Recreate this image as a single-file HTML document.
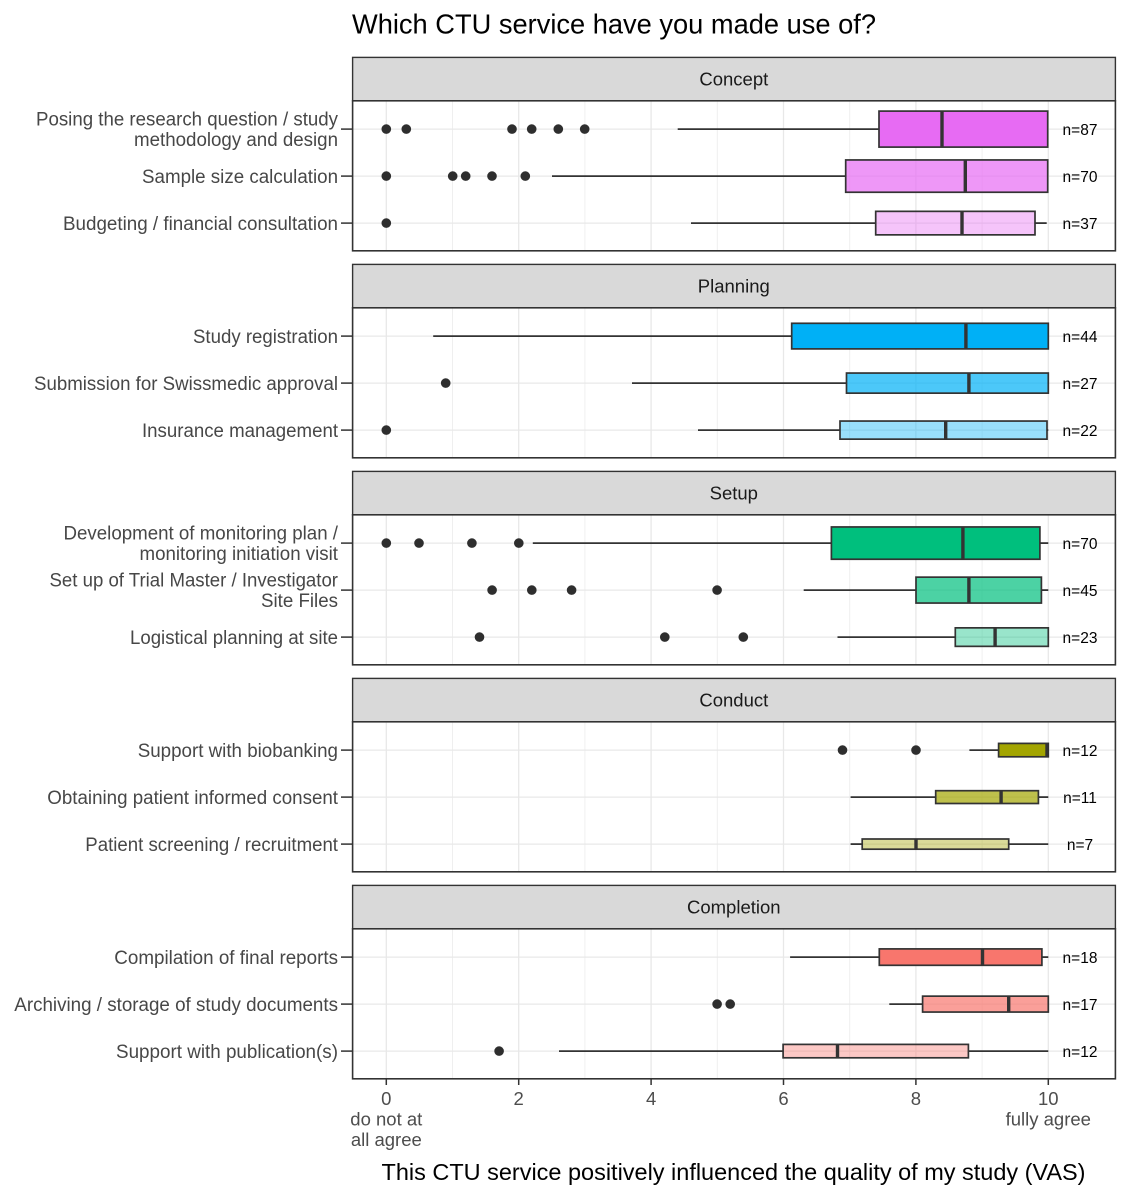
<!DOCTYPE html>
<html><head><meta charset="utf-8"><style>
html,body{margin:0;padding:0;background:#fff;}
svg{display:block;}
text{font-family:"Liberation Sans",Arial,sans-serif;}
.yl{font-size:19px;fill:#474747;text-anchor:end;}
.nl{font-size:15.5px;fill:#000;text-anchor:middle;}
.st{font-size:18.5px;fill:#1A1A1A;text-anchor:middle;}
.xl{font-size:18.5px;fill:#4D4D4D;text-anchor:middle;}
.w{stroke:#333;stroke-width:1.8;fill:none;}
.b{stroke:#333;stroke-width:1.7;}
.m{stroke:#333;stroke-width:3.4;}
.o{fill:#2e2e2e;}
.gM{stroke:#E8E8E8;stroke-width:1.3;}
.gm{stroke:#EEEEEE;stroke-width:0.9;}
.tk{stroke:#333;stroke-width:1.5;}
</style></head><body>
<svg width="1129" height="1200" viewBox="0 0 1129 1200" xmlns="http://www.w3.org/2000/svg">
<defs>
<g id="grid">
<line class="gm" x1="452.5" y1="0" x2="452.5" y2="150"/>
<line class="gm" x1="584.9" y1="0" x2="584.9" y2="150"/>
<line class="gm" x1="717.3" y1="0" x2="717.3" y2="150"/>
<line class="gm" x1="849.7" y1="0" x2="849.7" y2="150"/>
<line class="gm" x1="982.1" y1="0" x2="982.1" y2="150"/>
<line class="gM" x1="386.3" y1="0" x2="386.3" y2="150"/>
<line class="gM" x1="518.7" y1="0" x2="518.7" y2="150"/>
<line class="gM" x1="651.1" y1="0" x2="651.1" y2="150"/>
<line class="gM" x1="783.5" y1="0" x2="783.5" y2="150"/>
<line class="gM" x1="915.9" y1="0" x2="915.9" y2="150"/>
<line class="gM" x1="1048.3" y1="0" x2="1048.3" y2="150"/>
<line class="gM" x1="352.6" y1="28.3" x2="1115.4" y2="28.3"/>
<line class="gM" x1="352.6" y1="75.3" x2="1115.4" y2="75.3"/>
<line class="gM" x1="352.6" y1="122.3" x2="1115.4" y2="122.3"/>
<line class="tk" x1="341" y1="28.3" x2="352.6" y2="28.3"/>
<line class="tk" x1="341" y1="75.3" x2="352.6" y2="75.3"/>
<line class="tk" x1="341" y1="122.3" x2="352.6" y2="122.3"/>
</g>
</defs>

<text x="352" y="33.3" font-size="27.5" fill="#000" textLength="524" lengthAdjust="spacingAndGlyphs">Which CTU service have you made use of?</text>

<!-- strips -->
<rect x="352.6" y="57.4" width="762.8" height="43.4" fill="#D9D9D9" stroke="#333" stroke-width="1.4"/>
<text class="st" x="733.8" y="85.7">Concept</text>
<rect x="352.6" y="264.4" width="762.8" height="43.4" fill="#D9D9D9" stroke="#333" stroke-width="1.4"/>
<text class="st" x="733.8" y="292.7">Planning</text>
<rect x="352.6" y="471.4" width="762.8" height="43.4" fill="#D9D9D9" stroke="#333" stroke-width="1.4"/>
<text class="st" x="733.8" y="499.7">Setup</text>
<rect x="352.6" y="678.4" width="762.8" height="43.4" fill="#D9D9D9" stroke="#333" stroke-width="1.4"/>
<text class="st" x="733.8" y="706.7">Conduct</text>
<rect x="352.6" y="885.4" width="762.8" height="43.4" fill="#D9D9D9" stroke="#333" stroke-width="1.4"/>
<text class="st" x="733.8" y="913.7">Completion</text>

<!-- grids -->
<use href="#grid" transform="translate(0,100.8)"/>
<use href="#grid" transform="translate(0,307.8)"/>
<use href="#grid" transform="translate(0,514.8)"/>
<use href="#grid" transform="translate(0,721.8)"/>
<use href="#grid" transform="translate(0,928.8)"/>

<!-- ===== Concept ===== -->
<g fill="#E76BF3">
<line class="w" x1="677.7" y1="129.1" x2="879" y2="129.1"/>
<rect class="b" x="879" y="111.1" width="168.7" height="36"/>
<line class="m" x1="942" y1="111.1" x2="942" y2="147.1"/>
<line class="w" x1="552" y1="176.1" x2="845.7" y2="176.1"/>
<rect class="b" x="845.7" y="159.95" width="202" height="32.3" fill-opacity="0.7"/>
<line class="m" x1="965.3" y1="159.95" x2="965.3" y2="192.25"/>
<line class="w" x1="691" y1="223.1" x2="875.7" y2="223.1"/>
<line class="w" x1="1035" y1="223.1" x2="1046.7" y2="223.1"/>
<rect class="b" x="875.7" y="211.35" width="159.3" height="23.5" fill-opacity="0.4"/>
<line class="m" x1="962" y1="211.35" x2="962" y2="234.85"/>
</g>
<g class="o">
<circle cx="386.3" cy="129.1" r="4.8"/><circle cx="406.3" cy="129.1" r="4.8"/><circle cx="512" cy="129.1" r="4.8"/><circle cx="531.7" cy="129.1" r="4.8"/><circle cx="558.3" cy="129.1" r="4.8"/><circle cx="584.7" cy="129.1" r="4.8"/>
<circle cx="386.3" cy="176.1" r="4.8"/><circle cx="452.7" cy="176.1" r="4.8"/><circle cx="465.7" cy="176.1" r="4.8"/><circle cx="492" cy="176.1" r="4.8"/><circle cx="525.3" cy="176.1" r="4.8"/>
<circle cx="386.3" cy="223.1" r="4.8"/>
</g>

<!-- ===== Planning ===== -->
<g fill="#00B0F6">
<line class="w" x1="433.2" y1="336.1" x2="791.7" y2="336.1"/>
<rect class="b" x="791.7" y="323.3" width="256.6" height="25.6"/>
<line class="m" x1="965.9" y1="323.3" x2="965.9" y2="348.9"/>
<line class="w" x1="632" y1="383.1" x2="846.5" y2="383.1"/>
<rect class="b" x="846.5" y="373.05" width="201.8" height="20.1" fill-opacity="0.7"/>
<line class="m" x1="968.9" y1="373.05" x2="968.9" y2="393.15"/>
<line class="w" x1="698" y1="430.1" x2="840" y2="430.1"/>
<line class="w" x1="1047" y1="430.1" x2="1048.3" y2="430.1"/>
<rect class="b" x="840" y="421.05" width="207" height="18.1" fill-opacity="0.4"/>
<line class="m" x1="945.7" y1="421.05" x2="945.7" y2="439.15"/>
</g>
<g class="o">
<circle cx="445.7" cy="383.1" r="4.8"/>
<circle cx="386.3" cy="430.1" r="4.8"/>
</g>

<!-- ===== Setup ===== -->
<g fill="#00BF7D">
<line class="w" x1="532.8" y1="543.1" x2="831.4" y2="543.1"/>
<line class="w" x1="1039.9" y1="543.1" x2="1048.3" y2="543.1"/>
<rect class="b" x="831.4" y="526.95" width="208.5" height="32.3"/>
<line class="m" x1="962.9" y1="526.95" x2="962.9" y2="559.25"/>
<line class="w" x1="803.7" y1="590.1" x2="916" y2="590.1"/>
<line class="w" x1="1041.4" y1="590.1" x2="1048.3" y2="590.1"/>
<rect class="b" x="916" y="577.15" width="125.4" height="25.9" fill-opacity="0.7"/>
<line class="m" x1="968.9" y1="577.15" x2="968.9" y2="603.05"/>
<line class="w" x1="837.5" y1="637.1" x2="955.3" y2="637.1"/>
<rect class="b" x="955.3" y="627.85" width="93" height="18.5" fill-opacity="0.4"/>
<line class="m" x1="995.1" y1="627.85" x2="995.1" y2="646.35"/>
</g>
<g class="o">
<circle cx="386.3" cy="543.1" r="4.8"/><circle cx="419" cy="543.1" r="4.8"/><circle cx="471.9" cy="543.1" r="4.8"/><circle cx="518.8" cy="543.1" r="4.8"/>
<circle cx="492.1" cy="590.1" r="4.8"/><circle cx="531.8" cy="590.1" r="4.8"/><circle cx="571.6" cy="590.1" r="4.8"/><circle cx="717.1" cy="590.1" r="4.8"/>
<circle cx="479.5" cy="637.1" r="4.8"/><circle cx="664.8" cy="637.1" r="4.8"/><circle cx="743.3" cy="637.1" r="4.8"/>
</g>

<!-- ===== Conduct ===== -->
<g fill="#A3A500">
<line class="w" x1="969.4" y1="750.1" x2="998.6" y2="750.1"/>
<rect class="b" x="998.6" y="743.4" width="49.7" height="13.4"/>
<line class="m" x1="1047" y1="743.4" x2="1047" y2="756.8"/>
<line class="w" x1="850.6" y1="797.1" x2="935.7" y2="797.1"/>
<line class="w" x1="1038.4" y1="797.1" x2="1048.3" y2="797.1"/>
<rect class="b" x="935.7" y="790.7" width="102.7" height="12.8" fill-opacity="0.7"/>
<line class="m" x1="1001.1" y1="790.7" x2="1001.1" y2="803.5"/>
<line class="w" x1="850.6" y1="844.1" x2="862.2" y2="844.1"/>
<line class="w" x1="1008.7" y1="844.1" x2="1048.3" y2="844.1"/>
<rect class="b" x="862.2" y="839" width="146.5" height="10.2" fill-opacity="0.4"/>
<line class="m" x1="916" y1="839" x2="916" y2="849.2"/>
</g>
<g class="o">
<circle cx="842.5" cy="750.1" r="4.8"/><circle cx="916" cy="750.1" r="4.8"/>
</g>

<!-- ===== Completion ===== -->
<g fill="#F8766D">
<line class="w" x1="790.1" y1="957.1" x2="879.3" y2="957.1"/>
<line class="w" x1="1041.9" y1="957.1" x2="1048.3" y2="957.1"/>
<rect class="b" x="879.3" y="948.9" width="162.6" height="16.4"/>
<line class="m" x1="982.5" y1="948.9" x2="982.5" y2="965.3"/>
<line class="w" x1="889.3" y1="1004.1" x2="922.6" y2="1004.1"/>
<rect class="b" x="922.6" y="996.15" width="125.7" height="15.9" fill-opacity="0.7"/>
<line class="m" x1="1008.7" y1="996.15" x2="1008.7" y2="1012.05"/>
<line class="w" x1="559" y1="1051.1" x2="783.1" y2="1051.1"/>
<line class="w" x1="968.4" y1="1051.1" x2="1048.3" y2="1051.1"/>
<rect class="b" x="783.1" y="1044.4" width="185.3" height="13.4" fill-opacity="0.4"/>
<line class="m" x1="837.5" y1="1044.4" x2="837.5" y2="1057.8"/>
</g>
<g class="o">
<circle cx="717.1" cy="1004.1" r="4.8"/><circle cx="730.2" cy="1004.1" r="4.8"/>
<circle cx="499.1" cy="1051.1" r="4.8"/>
</g>

<!-- panel borders -->
<g fill="none" stroke="#333" stroke-width="1.6">
<rect x="352.6" y="100.8" width="762.8" height="150"/>
<rect x="352.6" y="307.8" width="762.8" height="150"/>
<rect x="352.6" y="514.8" width="762.8" height="150"/>
<rect x="352.6" y="721.8" width="762.8" height="150"/>
<rect x="352.6" y="928.8" width="762.8" height="150"/>
</g>

<!-- n labels -->
<text class="nl" x="1080" y="135.1">n=87</text>
<text class="nl" x="1080" y="182.1">n=70</text>
<text class="nl" x="1080" y="229.1">n=37</text>
<text class="nl" x="1080" y="342.1">n=44</text>
<text class="nl" x="1080" y="389.1">n=27</text>
<text class="nl" x="1080" y="436.1">n=22</text>
<text class="nl" x="1080" y="549.1">n=70</text>
<text class="nl" x="1080" y="596.1">n=45</text>
<text class="nl" x="1080" y="643.1">n=23</text>
<text class="nl" x="1080" y="756.1">n=12</text>
<text class="nl" x="1080" y="803.1">n=11</text>
<text class="nl" x="1080" y="850.1">n=7</text>
<text class="nl" x="1080" y="963.1">n=18</text>
<text class="nl" x="1080" y="1010.1">n=17</text>
<text class="nl" x="1080" y="1057.1">n=12</text>

<!-- y labels -->
<text class="yl" x="338" y="125.6" textLength="302" lengthAdjust="spacingAndGlyphs">Posing the research question / study</text>
<text class="yl" x="338" y="145.8" textLength="204" lengthAdjust="spacingAndGlyphs">methodology and design</text>
<text class="yl" x="338" y="182.8" textLength="196" lengthAdjust="spacingAndGlyphs">Sample size calculation</text>
<text class="yl" x="338" y="229.8" textLength="275" lengthAdjust="spacingAndGlyphs">Budgeting / financial consultation</text>
<text class="yl" x="338" y="342.8" textLength="145" lengthAdjust="spacingAndGlyphs">Study registration</text>
<text class="yl" x="338" y="389.8" textLength="304" lengthAdjust="spacingAndGlyphs">Submission for Swissmedic approval</text>
<text class="yl" x="338" y="436.8" textLength="196" lengthAdjust="spacingAndGlyphs">Insurance management</text>
<text class="yl" x="338" y="539.6" textLength="274.5" lengthAdjust="spacingAndGlyphs">Development of monitoring plan /</text>
<text class="yl" x="338" y="559.8" textLength="198.5" lengthAdjust="spacingAndGlyphs">monitoring initiation visit</text>
<text class="yl" x="338" y="586.6" textLength="288.5" lengthAdjust="spacingAndGlyphs">Set up of Trial Master / Investigator</text>
<text class="yl" x="338" y="606.8" textLength="77" lengthAdjust="spacingAndGlyphs">Site Files</text>
<text class="yl" x="338" y="643.8" textLength="208" lengthAdjust="spacingAndGlyphs">Logistical planning at site</text>
<text class="yl" x="338" y="756.8" textLength="200.3" lengthAdjust="spacingAndGlyphs">Support with biobanking</text>
<text class="yl" x="338" y="803.8" textLength="290.7" lengthAdjust="spacingAndGlyphs">Obtaining patient informed consent</text>
<text class="yl" x="338" y="850.8" textLength="252.7" lengthAdjust="spacingAndGlyphs">Patient screening / recruitment</text>
<text class="yl" x="338" y="963.8" textLength="223.7" lengthAdjust="spacingAndGlyphs">Compilation of final reports</text>
<text class="yl" x="338" y="1010.8" textLength="323.7" lengthAdjust="spacingAndGlyphs">Archiving / storage of study documents</text>
<text class="yl" x="338" y="1057.8" textLength="222" lengthAdjust="spacingAndGlyphs">Support with publication(s)</text>

<!-- x axis ticks -->
<g class="tk">
<line x1="386.3" y1="1078.8" x2="386.3" y2="1085"/>
<line x1="518.7" y1="1078.8" x2="518.7" y2="1085"/>
<line x1="651.1" y1="1078.8" x2="651.1" y2="1085"/>
<line x1="783.5" y1="1078.8" x2="783.5" y2="1085"/>
<line x1="915.9" y1="1078.8" x2="915.9" y2="1085"/>
<line x1="1048.3" y1="1078.8" x2="1048.3" y2="1085"/>
</g>
<text class="xl" x="386.3" y="1105">0</text>
<text class="xl" x="386.3" y="1125.5">do not at</text>
<text class="xl" x="386.3" y="1146">all agree</text>
<text class="xl" x="518.7" y="1105">2</text>
<text class="xl" x="651.1" y="1105">4</text>
<text class="xl" x="783.5" y="1105">6</text>
<text class="xl" x="915.9" y="1105">8</text>
<text class="xl" x="1048.3" y="1105">10</text>
<text class="xl" x="1048.3" y="1125.5">fully agree</text>

<text x="733.5" y="1180" font-size="23" fill="#000" text-anchor="middle" textLength="704" lengthAdjust="spacingAndGlyphs">This CTU service positively influenced the quality of my study (VAS)</text>
</svg>
</body></html>
